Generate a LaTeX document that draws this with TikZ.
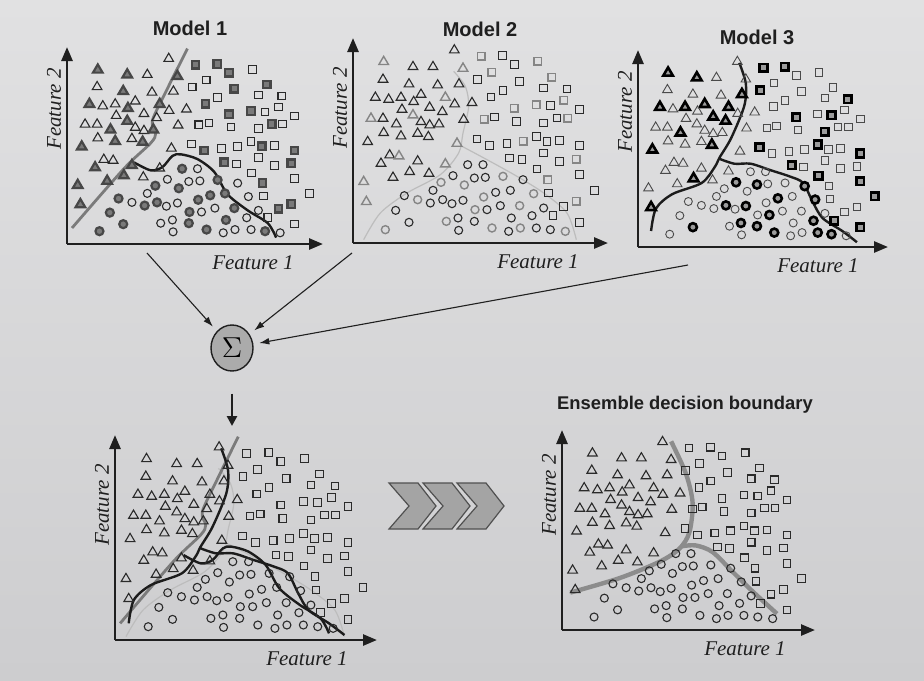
\documentclass[tikz,border=0pt]{standalone}
\usepackage{fontspec}
\setmainfont{Liberation Serif}
\setsansfont{Liberation Sans}
\usepackage{tikz}
\usetikzlibrary{arrows.meta,shapes.geometric}
\definecolor{cBgTop}{HTML}{E1E1E2}
\definecolor{cBgBot}{HTML}{CDCDCF}
\definecolor{cInk}{HTML}{1F1F1F}
\definecolor{cPlain}{HTML}{2A2A2A}
\definecolor{cLight}{HTML}{4A4A4A}
\definecolor{cM1Fill}{HTML}{7A7A7A}
\definecolor{cM1Rim}{HTML}{474747}
\definecolor{cM2}{HTML}{858585}
\definecolor{cM3Fill}{HTML}{9C9C9C}
\definecolor{cLine1}{HTML}{7B7B7B}
\definecolor{cLine3}{HTML}{1C1C1C}
\definecolor{cFaint}{HTML}{BDBDBD}
\definecolor{cEns}{HTML}{8C8C8C}
\definecolor{cSum}{HTML}{ABABAB}
\definecolor{cChev}{HTML}{A4A4A4}
\definecolor{cChevRim}{HTML}{505050}
\tikzset{
  axis/.style={draw=cInk,line width=1.3pt,-{Triangle[length=7pt,width=5.5pt]}},
  ftlbl/.style={font=\fontsize{10.5}{12}\selectfont\itshape,text=cInk,inner sep=0pt},
  ttl/.style={font=\sffamily\bfseries\fontsize{10}{12}\selectfont,text=cInk,inner sep=0pt},
  conn/.style={draw=cInk,line width=0.55pt,-{Latex[length=5pt,width=3.4pt]},shorten >=3pt},
  downarr/.style={draw=cInk,line width=1.3pt,-{Triangle[length=5pt,width=5pt]}},
  sumnode/.style={ellipse,draw=cInk,line width=0.7pt,fill=cSum,minimum width=21pt,minimum height=23pt,inner sep=0pt,font=\fontsize{15}{15}\selectfont},
  chev/.style={fill=cChev,draw=cChevRim,line width=0.6pt,line join=miter},
  bndA/.style={draw=cLine1,line width=1.4pt}, bndB/.style={draw=cLine3,line width=1.2pt},
  bndF/.style={draw=cFaint,line width=0.6pt}, bndE/.style={draw=cEns,line width=2.2pt},
  mk00/.style={draw=cPlain,line width=0.55pt}, mk10/.style={draw=cPlain,line width=0.55pt},
  mk11/.style={draw=cM1Rim,fill=cM1Fill,line width=1.1pt},
  mk20/.style={draw=cPlain,line width=0.55pt}, mk21/.style={draw=cM2,line width=0.7pt},
  mk30/.style={draw=cLight,line width=0.45pt}, mk31/.style={draw=black,fill=cM3Fill,line width=1.3pt},
  tri/.pic={\path[pic actions] (0pt,2.5pt) -- (-2.4pt,-1.6pt) -- (2.4pt,-1.6pt) -- cycle;},
  sqr/.pic={\path[pic actions] (-1.9pt,-1.9pt) rectangle (1.9pt,1.9pt);},
  cir/.pic={\path[pic actions] (0pt,0pt) circle[radius=2pt];}}
% x/y/model1/model2/model3 flags
\newcommand\tripts{372/150/0/0/0, 160/185/1/1/1, 248/200/1/0/1, 308/200/0/0/0, 398/205/1/1/0,
  158/238/0/0/0, 236/252/1/0/0, 322/255/0/0/0, 386/252/0/0/1, 135/292/1/0/1, 175/298/0/0/0,
  212/292/0/0/1, 272/283/0/0/1, 345/292/1/1/1, 373/312/0/0/0, 425/308/0/0/0, 250/305/1/0/0,
  298/322/0/0/1, 215/328/0/0/0, 336/335/0/0/1, 122/355/0/1/0, 158/355/0/0/0, 198/372/1/0/1,
  248/345/1/1/0, 272/365/0/0/0, 298/375/0/0/0, 326/372/1/0/0, 400/358/0/0/0, 160/398/0/0/0,
  212/408/1/0/0, 262/400/0/0/0, 294/410/1/0/1, 112/425/1/0/1, 380/430/0/1/0, 152/490/1/0/0,
  178/465/0/0/0, 206/468/0/1/0, 262/483/1/0/0, 345/492/0/1/0, 188/532/1/0/0, 238/515/1/0/1,
  296/520/0/0/0, 100/545/1/1/0, 108/605/1/1/1}
\newcommand\sqrpts{452/170/1/1/1, 517/168/1/0/1, 552/195/1/0/0, 622/185/0/1/0, 484/218/0/1/0,
  442/240/0/0/1, 568/245/1/0/0, 665/232/1/1/0, 640/265/0/0/0, 710/268/0/0/1, 518/272/0/0/0,
  482/292/1/0/0, 552/325/1/1/1, 618/315/1/1/0, 660/318/0/0/1, 700/302/0/1/0, 748/330/0/0/0,
  462/358/0/1/0, 492/352/0/0/0, 558/365/0/0/0, 640/370/0/0/1, 680/355/1/0/0, 712/355/0/1/0,
  440/418/0/0/1, 478/438/1/0/0, 530/432/0/0/0, 578/425/0/1/0, 618/410/0/0/1, 650/425/1/0/0,
  688/422/0/0/0, 748/438/1/0/1, 538/475/1/0/1, 575/480/0/0/0, 640/460/0/0/0, 688/485/0/0/0,
  738/478/1/1/0, 620/508/0/0/1, 652/540/1/1/0, 748/525/0/0/1, 655/580/0/0/0, 792/572/0/0/1,
  700/620/1/0/0, 738/605/1/1/0, 668/648/0/0/1, 748/668/0/0/1}
\newcommand\cirpts{412/495/1/0/0, 458/495/0/0/0, 368/528/0/0/1, 432/535/0/0/1, 465/533/0/0/0,
  518/530/1/1/0, 578/540/0/0/1, 332/548/1/1/0, 402/556/1/1/0, 308/572/0/0/0, 496/578/1/0/1,
  540/572/1/0/0, 610/582/0/1/1, 222/588/1/0/0, 262/600/0/1/0, 300/610/1/0/0, 337/600/1/0/1,
  365/612/0/0/0, 398/602/0/0/1, 460/592/1/1/0, 434/630/1/1/0, 470/630/0/0/1, 510/618/0/0/0,
  568/618/1/1/0, 640/625/0/0/0, 196/632/1/0/0, 236/668/1/0/1, 348/665/0/1/0, 383/655/0/0/1,
  432/665/1/0/1, 543/655/1/0/0, 605/648/0/0/1, 165/690/1/1/0, 385/692/0/0/0, 485/685/1/1/1,
  535/695/0/0/0, 570/685/0/1/0, 618/685/0/0/1, 660/690/1/0/1, 705/695/0/1/0}
\newcommand\drawclass[2]{%
  \foreach \px/\py/\fa/\fb/\fc in #2{%
    \ifcase\plotmodel\relax\def\fl{0}\or\let\fl\fa\or\let\fl\fb\or\let\fl\fc\fi
    \edef\tmp{\noexpand\pic[mk\plotmodel\fl] at (\px,\py) {#1};}\tmp}}
\newcommand\drawpts[1]{\def\plotmodel{#1}\drawclass{tri}{\tripts}\drawclass{sqr}{\sqrpts}\drawclass{cir}{\cirpts}}
\newcommand\boundone{%
  \draw[bndA] plot[smooth] coordinates {(83,680) (238,495) (318,415) (333,385) (323,345) (368,245) (428,120)};
  \draw[bndB] plot[smooth] coordinates {(268,475) (318,500) (353,490) (383,455) (408,450) (458,465) (508,505) (548,575) (608,625) (668,665) (693,710)};}
\newcommand\boundtwo{%
  \draw[bndF] plot[smooth] coordinates {(100,720) (150,640) (230,580) (330,525) (385,460) (398,400) (415,320) (405,260) (370,215)};
  \draw[bndF] plot[smooth] coordinates {(395,440) (470,480) (560,530) (640,580) (710,640) (738,720)};}
\newcommand\boundthree{%
  \draw[bndB] plot[smooth] coordinates {(108,680) (123,610) (173,565) (263,530) (303,480) (318,450) (353,390) (393,290) (398,220) (378,155)};
  \draw[bndB] plot[smooth] coordinates {(318,455) (363,470) (413,470) (473,490) (533,510) (573,530) (603,590) (633,640) (693,680) (738,715)};}
\newcommand\boundens{%
  \draw[bndE] plot[smooth] coordinates {(93,615) (243,570) (363,520) (423,480) (453,430) (463,340) (443,250) (398,150)};
  \draw[bndE] plot[smooth] coordinates {(433,472) (473,470) (523,490) (583,550) (643,610) (718,680)};}
% #1 name, #2 origin, #3 width, #4 height, #5 contents
\newcommand\scatterplot[5]{%
  \begin{scope}[shift={#2}]
    \draw[axis] (0,0) -- (#3,0);
    \draw[axis] (0,0) -- (0,-#4);
    \node[ftlbl] (#1-f1) at (#3-70,19) {Feature 1};
    \node[ftlbl,rotate=90] (#1-f2) at (-13,-135) {Feature 2};
    \begin{scope}[x={({#3/1530*1pt},0pt)},y={(0pt,{-#4/1230*1pt})}]
      \begin{scope}[shift={(-68,-730)}]
        #5
      \end{scope}
    \end{scope}
  \end{scope}}

\begin{document}
\begin{tikzpicture}[x=0.5pt,y=-0.5pt]
\useasboundingbox (0,0) rectangle (924,680);
\shade[top color=cBgTop,bottom color=cBgBot] (0,0) rectangle (924,680);

\scatterplot{p1}{(67,244)}{256}{197}{\boundone\drawpts{1}}
\scatterplot{p2}{(353,243)}{255}{205}{\boundtwo\drawpts{2}}
\scatterplot{p3}{(638,247)}{250}{197}{\boundthree\drawpts{3}}
\scatterplot{p4}{(115,640)}{262}{205}{\boundtwo\boundone\boundthree\drawpts{0}}
\scatterplot{p5}{(562,630)}{253}{200}{\boundens\drawpts{0}}

\node[ttl] (t1) at (190,28) {Model 1};
\node[ttl] (t2) at (480,29) {Model 2};
\node[ttl] (t3) at (757,37) {Model 3};
\node[ttl,font=\sffamily\bfseries\fontsize{9.2}{11}\selectfont] (t5) at (685,405) {Ensemble decision boundary};

\node[sumnode] (sum) at (232,348) {$\Sigma$};
\coordinate (m1-out) at (147,253);
\coordinate (m2-out) at (352,253);
\coordinate (m3-out) at (688,265);
\coordinate (comb-in) at (232,426);
\draw[conn] (m1-out) -- (sum);
\draw[conn] (m2-out) -- (sum);
\draw[conn] (m3-out) -- (sum);
\draw[downarr,shorten <=11pt] (sum) -- (comb-in);

\foreach \i in {0,1,2}
  \draw[chev] ({389+34*\i},483) -- ++(29,0) -- ++(18,23) -- ++(-18,23) -- ++(-29,0) -- ++(20,-23) -- cycle;
\end{tikzpicture}
\end{document}
